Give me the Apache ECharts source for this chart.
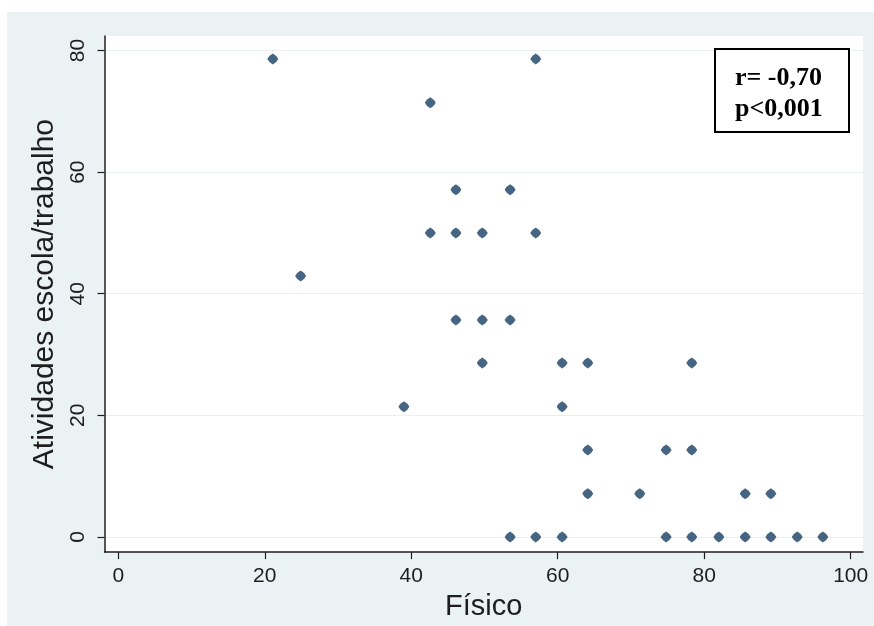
<!DOCTYPE html>
<html>
<head>
<meta charset="utf-8">
<script src="https://cdn.jsdelivr.net/npm/echarts@6/dist/echarts.min.js"></script>
<style>
  html, body { margin: 0; padding: 0; background: #eaf2f3; }
  #topBand { position: absolute; left: 0; top: 0; width: 100%; height: 12px; background: #ffffff; }
  #leftBand { position: absolute; left: 0; top: 0; width: 7px; height: 100%; background: #ffffff; }
  #chart { position: absolute; left: 7px; top: 12px; width: 867px; height: 614px; background: #eaf2f3; }
</style>
</head>
<body>
<div id="topBand"></div>
<div id="leftBand"></div>
<div id="chart"></div>
<script>
// Scores per respondent: physical domain (x) vs. school/work activities (y)
const fisico = [
  21.1, 24.9, 39.0, 42.6, 42.6, 46.1, 46.1, 46.1, 49.7, 49.7, 49.7,
  53.5, 53.5, 53.5, 57.0, 57.0, 57.0, 60.6, 60.6, 60.6, 64.1, 64.1, 64.1,
  71.2, 74.8, 74.8, 78.3, 78.3, 78.3, 82.0, 85.6, 85.6, 89.1, 89.1, 92.7, 96.2
];
const atividades = [
  78.6, 42.9, 21.4, 71.4, 50.0, 57.1, 50.0, 35.7, 50.0, 35.7, 28.6,
  57.1, 35.7, 0.0, 78.6, 50.0, 0.0, 28.6, 21.4, 0.0, 28.6, 14.3, 7.1,
  7.1, 14.3, 0.0, 28.6, 14.3, 0.0, 0.0, 7.1, 0.0, 7.1, 0.0, 0.0, 0.0
];
const xTicks = [0, 20, 40, 60, 80, 100];
const yTicks = [0, 20, 40, 60, 80];
const xTitle = 'Físico';
const yTitle = 'Atividades escola/trabalho';
const statsLines = ['r= -0,70', 'p<0,001'];

const points = fisico.map((x, i) => [x, atividades[i]]);

const chart = echarts.init(document.getElementById('chart'), null, { renderer: 'canvas' });
const axisColor = '#1e1e1e';
const font = '"Liberation Sans", Arial, sans-serif';
// diamond with slightly bulging sides, like the plotted markers
const roundDiamond = 'path://M0,-5 Q3.3,-3.3 5,0 Q3.3,3.3 0,5 Q-3.3,3.3 -5,0 Q-3.3,-3.3 0,-5 Z';

chart.setOption({
  animation: false,
  backgroundColor: '#eaf2f3',
  title: {
    text: statsLines.join('\n'),
    left: 708,
    top: 37,
    padding: [14, 26, 7, 20],
    borderColor: '#000000',
    borderWidth: 2,
    backgroundColor: '#ffffff',
    textStyle: {
      fontFamily: '"Liberation Serif", "Times New Roman", serif',
      fontWeight: 'bold',
      fontSize: 26,
      lineHeight: 31,
      color: '#000000'
    }
  },
  grid: {
    left: 97.5,
    right: 11,
    top: 24,
    bottom: 68,
    show: true,
    backgroundColor: '#ffffff',
    borderWidth: 0
  },
  xAxis: {
    type: 'value',
    min: -1.88,
    max: 101.68,
    name: xTitle,
    nameLocation: 'middle',
    nameGap: 35,
    nameTextStyle: { fontFamily: font, fontSize: 29, color: axisColor },
    axisLine: { show: true, onZero: false, lineStyle: { color: axisColor, width: 1.5 } },
    axisTick: { show: true, length: 7, customValues: xTicks, lineStyle: { color: axisColor, width: 1.2 } },
    axisLabel: { customValues: xTicks, margin: 14, fontFamily: font, fontSize: 21, color: axisColor },
    splitLine: { show: false }
  },
  yAxis: {
    type: 'value',
    min: -2.49,
    max: 82.39,
    name: yTitle,
    nameLocation: 'middle',
    nameGap: 44,
    nameRotate: 90,
    nameTextStyle: { fontFamily: font, fontSize: 30, color: axisColor },
    axisLine: { show: true, onZero: false, lineStyle: { color: axisColor, width: 1.5 } },
    axisTick: { show: true, length: 7, customValues: yTicks, lineStyle: { color: axisColor, width: 1.2 } },
    axisLabel: { customValues: yTicks, rotate: 90, margin: 16, fontFamily: font, fontSize: 21, color: axisColor },
    splitLine: { show: true, lineStyle: { color: '#e9eff2', width: 1.2 } }
  },
  series: [{
    type: 'scatter',
    data: points,
    symbol: roundDiamond,
    symbolSize: 11,
    itemStyle: { color: '#173f64' }
  }]
});
</script>
</body>
</html>
